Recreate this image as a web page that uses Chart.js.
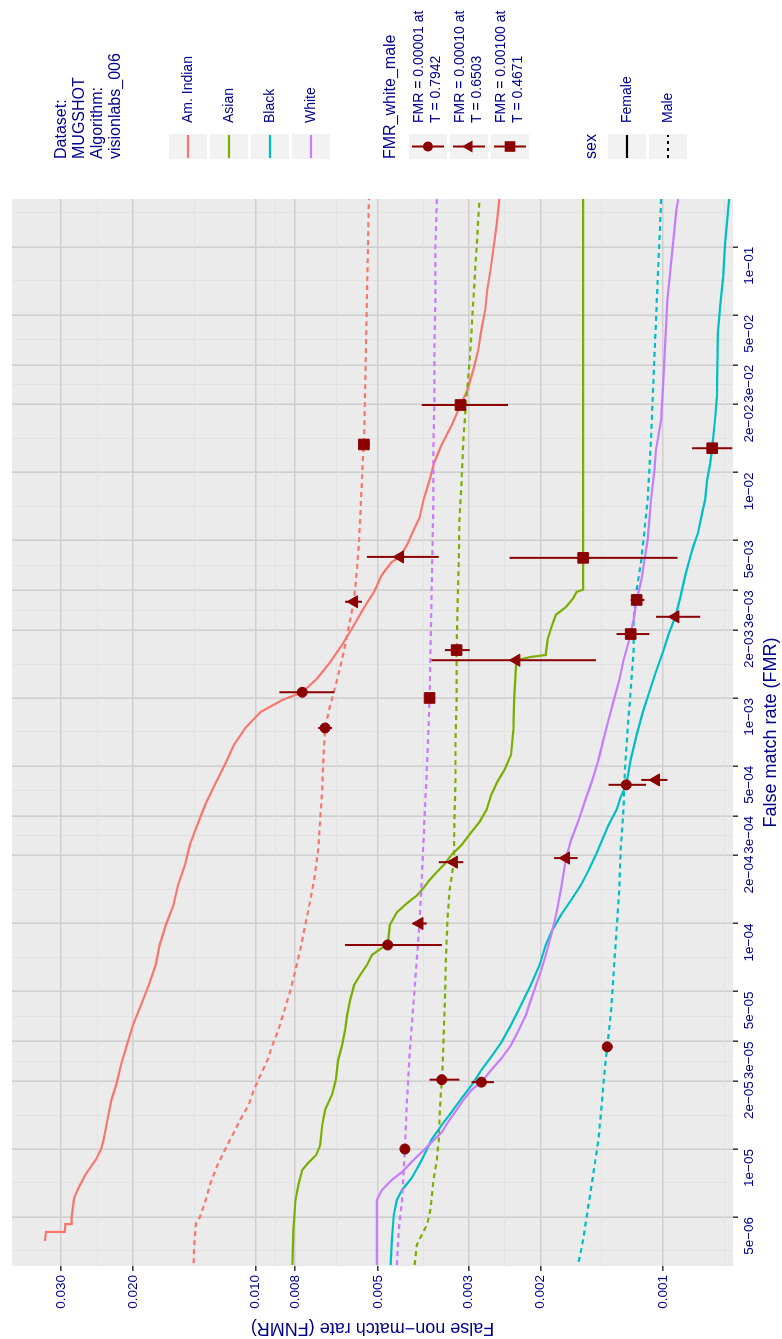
<!DOCTYPE html>
<html>
<head>
<meta charset="utf-8">
<script src="https://cdn.jsdelivr.net/npm/chart.js@4.4.1/dist/chart.umd.min.js"></script>
<style>
html, body { margin: 0; padding: 0; background: #fff; overflow: hidden; }
#wrap {
    position: absolute; left: 0; top: 0;
    width: 1339px; height: 782px;
    transform-origin: 0 0;
    transform: translate(0, 1339px) rotate(-90deg);
}
canvas { display: block; }
</style>
</head>
<body>
<div id="wrap"><canvas id="det" width="1339" height="782"></canvas></div>
<script>
// ---- data: [FMR, FNMR] pairs ----
const amIndianFemale = [[3.91e-6,0.0329],[4.29e-6,0.0327],[4.29e-6,0.0294],[4.65e-6,0.0293],[4.65e-6,0.0283],[4.99e-6,0.0283],[6.06e-6,0.0279],[6.72e-6,0.0272],[7.67e-6,0.0262],[8.94e-6,0.0247],[9.9e-6,0.0240],[1.10e-5,0.0236],[1.35e-5,0.0231],[1.65e-5,0.0226],[1.92e-5,0.0220],[2.36e-5,0.0214],[2.89e-5,0.0207],[3.55e-5,0.0200],[4.35e-5,0.0191],[5.33e-5,0.0183],[6.54e-5,0.0176],[8.03e-5,0.0172],[9.85e-5,0.0166],[1.21e-4,0.0159],[1.48e-4,0.0155],[1.82e-4,0.0149],[2.23e-4,0.0145],[2.73e-4,0.0139],[3.35e-4,0.0133],[4.12e-4,0.0126],[5.05e-4,0.0119],[6.19e-4,0.0113],[7.36e-4,0.0106],[8.67e-4,0.00972],[9.80e-4,0.00859],[1.06e-3,0.00768],[1.22e-3,0.00706],[1.44e-3,0.00656],[1.72e-3,0.00613],[2.11e-3,0.00573],[2.51e-3,0.00542],[2.95e-3,0.00512],[3.51e-3,0.00490],[4.01e-3,0.00463],[4.22e-3,0.00442],[4.77e-3,0.00425],[5.56e-3,0.00409],[6.29e-3,0.00396],[7.55e-3,0.00387],[9.26e-3,0.00374],[1.11e-2,0.00364],[1.33e-2,0.00349],[1.62e-2,0.00330],[1.99e-2,0.00314],[2.32e-2,0.00302],[2.85e-2,0.00292],[3.49e-2,0.00284],[4.29e-2,0.00279],[5.26e-2,0.00273],[6.45e-2,0.00270],[7.91e-2,0.00265],[9.70e-2,0.00261],[0.125,0.00256],[0.163,0.00252]];
const amIndianMale = [[3.12e-6,0.0142],[4.07e-6,0.0141],[4.7e-6,0.0140],[4.99e-6,0.0137],[5.82e-6,0.0133],[7.07e-6,0.0129],[8.49e-6,0.0124],[9.9e-6,0.0119],[1.15e-5,0.0114],[1.35e-5,0.0109],[1.57e-5,0.0104],[1.83e-5,0.0101],[2.13e-5,0.00972],[2.48e-5,0.00935],[2.89e-5,0.00909],[3.37e-5,0.00879],[4.14e-5,0.00849],[5.07e-5,0.00821],[6.22e-5,0.00798],[7.63e-5,0.00777],[9.85e-5,0.00755],[1.27e-4,0.00734],[1.56e-4,0.00718],[2.12e-4,0.00702],[2.88e-4,0.00694],[3.91e-4,0.00686],[5.31e-4,0.00682],[7.36e-4,0.00675],[9.31e-4,0.00656],[1.20e-3,0.00631],[1.63e-3,0.00606],[2.22e-3,0.00586],[2.72e-3,0.00573],[3.69e-3,0.00564],[5.02e-3,0.00557],[7.55e-3,0.00551],[1.14e-2,0.00545],[1.33e-2,0.00542],[2.10e-2,0.00539],[3.49e-2,0.00536],[5.82e-2,0.00533],[9.70e-2,0.00530],[0.163,0.00527]];
const asianFemale = [[3.06e-6,0.00812],[4.37e-6,0.00808],[5.94e-6,0.00798],[6.93e-6,0.00785],[8.07e-6,0.00768],[8.67e-6,0.00743],[9.41e-6,0.00710],[1.04e-5,0.00694],[1.28e-5,0.00686],[1.49e-5,0.00675],[1.74e-5,0.00649],[2.03e-5,0.00635],[2.48e-5,0.00627],[2.89e-5,0.00613],[3.37e-5,0.00603],[3.93e-5,0.00596],[4.58e-5,0.00586],[5.33e-5,0.00573],[5.91e-5,0.00554],[6.54e-5,0.00533],[7.25e-5,0.00518],[7.79e-5,0.00490],[8.03e-5,0.00474],[9.85e-5,0.00468],[1.12e-4,0.00450],[1.23e-4,0.00425],[1.33e-4,0.00402],[1.44e-4,0.00387],[1.56e-4,0.00374],[1.69e-4,0.00359],[1.82e-4,0.00345],[2.02e-4,0.00330],[2.23e-4,0.00312],[2.55e-4,0.00295],[2.82e-4,0.00282],[3.19e-4,0.00271],[3.72e-4,0.00264],[4.24e-4,0.00255],[4.80e-4,0.00245],[5.59e-4,0.00236],[7.21e-4,0.00233],[9.80e-4,0.00232],[1.47e-3,0.00229],[1.52e-3,0.00211],[1.55e-3,0.00194],[1.81e-3,0.00192],[2.05e-3,0.00188],[2.34e-3,0.00183],[2.53e-3,0.00173],[2.77e-3,0.00166],[2.95e-3,0.00163],[3.02e-3,0.00157],[0.163,0.00157]];
const asianMale = [[3.06e-6,0.00407],[3.75e-6,0.00402],[4.16e-6,0.00391],[4.60e-6,0.00380],[5.10e-6,0.00374],[5.94e-6,0.00370],[7.29e-6,0.00366],[8.94e-6,0.00359],[1.10e-5,0.00355],[1.49e-5,0.00353],[2.03e-5,0.00349],[2.48e-5,0.00347],[3.37e-5,0.00345],[4.58e-5,0.00343],[6.89e-5,0.00341],[1.04e-4,0.00338],[1.41e-4,0.00334],[1.87e-4,0.00326],[2.88e-4,0.00325],[4.33e-4,0.00323],[6.52e-4,0.00323],[9.80e-4,0.00321],[1.63e-3,0.00321],[2.72e-3,0.00319],[4.09e-3,0.00317],[6.16e-3,0.00316],[9.26e-3,0.00312],[1.39e-2,0.00309],[2.10e-2,0.00304],[3.16e-2,0.00298],[4.29e-2,0.00295],[5.82e-2,0.00292],[7.91e-2,0.00289],[0.107,0.00286],[0.163,0.00282]];
const blackFemale = [[3.06e-6,0.00466],[3.95e-6,0.00463],[5.10e-6,0.00458],[5.94e-6,0.00450],[6.58e-6,0.00437],[7.43e-6,0.00414],[8.94e-6,0.00391],[1.10e-5,0.00370],[1.28e-5,0.00349],[1.46e-5,0.00330],[1.68e-5,0.00312],[1.92e-5,0.00295],[2.24e-5,0.00279],[2.56e-5,0.00264],[2.98e-5,0.00249],[3.55e-5,0.00236],[4.35e-5,0.00223],[5.33e-5,0.00211],[6.54e-5,0.00201],[8.03e-5,0.00194],[9.36e-5,0.00187],[1.09e-4,0.00178],[1.27e-4,0.00168],[1.48e-4,0.00159],[1.73e-4,0.00152],[2.02e-4,0.00146],[2.35e-4,0.00141],[2.73e-4,0.00136],[3.19e-4,0.00130],[3.64e-4,0.00127],[4.12e-4,0.00123],[5.31e-4,0.00120],[6.86e-4,0.00116],[8.67e-4,0.00112],[1.06e-3,0.00108],[1.31e-3,0.00104],[1.60e-3,0.00100],[1.90e-3,0.000970],[2.29e-3,0.000932],[2.80e-3,0.000906],[3.51e-3,0.000881],[4.22e-3,0.000857],[4.67e-3,0.000843],[5.39e-3,0.000820],[6.61e-3,0.000801],[7.55e-3,0.000788],[9.26e-3,0.000779],[1.09e-2,0.000766],[1.28e-2,0.000757],[1.71e-2,0.000745],[2.16e-2,0.000737],[4.16e-2,0.000733],[5.42e-2,0.000724],[7.36e-2,0.000712],[0.104,0.000704],[0.163,0.000688]];
const blackMale = [[3.16e-6,0.00161],[3.95e-6,0.00157],[5.37e-6,0.00153],[7.29e-6,0.00149],[1.10e-5,0.00144],[1.65e-5,0.00141],[2.24e-5,0.00139],[2.84e-5,0.00137],[4.14e-5,0.00134],[6.22e-5,0.00132],[9.36e-5,0.00130],[1.41e-4,0.00128],[2.12e-4,0.00127],[3.19e-4,0.00125],[4.80e-4,0.00124],[7.36e-4,0.00122],[1.08e-3,0.00120],[1.63e-3,0.00118],[2.22e-3,0.00118],[3.02e-3,0.00116],[4.09e-3,0.00113],[5.56e-3,0.00111],[7.55e-3,0.00109],[1.02e-2,0.00108],[1.39e-2,0.00107],[2.10e-2,0.00106],[3.16e-2,0.00105],[4.75e-2,0.00104],[7.14e-2,0.00103],[0.107,0.00102],[0.163,0.00101]];
const whiteFemale = [[3.06e-6,0.00504],[5.94e-6,0.00504],[6.58e-6,0.00490],[7.29e-6,0.00463],[7.91e-6,0.00437],[8.76e-6,0.00414],[9.70e-6,0.00391],[1.07e-5,0.00370],[1.19e-5,0.00349],[1.35e-5,0.00334],[1.49e-5,0.00321],[1.65e-5,0.00309],[1.83e-5,0.00295],[1.98e-5,0.00279],[2.24e-5,0.00264],[2.53e-5,0.00249],[2.89e-5,0.00236],[3.37e-5,0.00226],[3.93e-5,0.00217],[4.58e-5,0.00211],[5.33e-5,0.00205],[6.22e-5,0.00199],[7.25e-5,0.00194],[8.89e-5,0.00188],[1.09e-4,0.00183],[1.41e-4,0.00178],[1.95e-4,0.00173],[2.35e-4,0.00168],[2.88e-4,0.00161],[3.53e-4,0.00155],[4.33e-4,0.00149],[5.31e-4,0.00144],[6.52e-4,0.00140],[7.99e-4,0.00136],[9.80e-4,0.00132],[1.20e-3,0.00128],[1.47e-3,0.00125],[1.81e-3,0.00121],[2.22e-3,0.00118],[2.72e-3,0.00116],[3.33e-3,0.00113],[4.09e-3,0.00111],[5.02e-3,0.00109],[6.16e-3,0.00108],[7.55e-3,0.00107],[1.02e-2,0.00105],[1.26e-2,0.00104],[1.71e-2,0.00101],[2.57e-2,0.000998],[3.87e-2,0.000986],[5.82e-2,0.000975],[7.91e-2,0.000959],[0.107,0.000943],[0.146,0.000927],[0.163,0.000917]];
const whiteMale = [[3.06e-6,0.00450],[4.37e-6,0.00445],[5.94e-6,0.00437],[1.00e-5,0.00430],[1.65e-5,0.00425],[2.75e-5,0.00418],[4.58e-5,0.00409],[6.89e-5,0.00402],[1.00e-4,0.00396],[1.56e-4,0.00391],[2.35e-4,0.00387],[3.53e-4,0.00383],[5.88e-4,0.00378],[1.00e-3,0.00374],[1.63e-3,0.00372],[2.72e-3,0.00370],[4.53e-3,0.00368],[7.55e-3,0.00366],[1.26e-2,0.00366],[2.10e-2,0.00364],[3.49e-2,0.00364],[5.82e-2,0.00362],[9.70e-2,0.00362],[0.163,0.00359]];

// operating points, order: AmInd F, AmInd M, Asian F, Asian M, Black F, Black M, White F, White M
const circleFmr   = [1.06e-3, 7.36e-4, 8.03e-5, 2.03e-5, 4.12e-4, 2.84e-5, 1.98e-5, 1.00e-5];
const circleFnmr  = [0.00768, 0.00675, 0.00474, 0.00349, 0.00123, 0.00137, 0.00279, 0.00430];
const circleLow   = [0.00641, 0.00649, 0.00349, 0.00316, 0.00110, 0.00133, 0.00260, 0.00423];
const circleHigh  = [0.00874, 0.00702, 0.00603, 0.00374, 0.00136, 0.00140, 0.00295, 0.00437];
const triangleFmr  = [4.22e-3, 2.67e-3, 1.47e-3, 1.87e-4, 2.29e-3, 4.33e-4, 1.95e-4, 1.00e-4];
const triangleFnmr = [0.00442, 0.00573, 0.00229, 0.00326, 0.000932, 0.00104, 0.00173, 0.00396];
const triangleLow  = [0.00355, 0.00548, 0.00146, 0.00309, 0.000810, 0.000975, 0.00162, 0.00380];
const triangleHigh = [0.00533, 0.00603, 0.00370, 0.00355, 0.00104, 0.00113, 0.00185, 0.00412];
const squareFmr   = [1.99e-2, 1.33e-2, 4.18e-3, 1.63e-3, 1.28e-2, 1.92e-3, 2.72e-3, 1.00e-3];
const squareFnmr  = [0.00314, 0.00542, 0.00157, 0.00321, 0.000757, 0.00120, 0.00116, 0.00374];
const squareLow   = [0.00240, 0.00524, 0.000921, 0.00298, 0.000676, 0.00108, 0.00111, 0.00364];
const squareHigh  = [0.00391, 0.00560, 0.00238, 0.00343, 0.000848, 0.00130, 0.00120, 0.00384];

const fmrTicks = [5e-6, 1e-5, 2e-5, 3e-5, 5e-5, 1e-4, 2e-4, 3e-4, 5e-4, 1e-3, 2e-3, 3e-3, 5e-3, 1e-2, 2e-2, 3e-2, 5e-2, 1e-1];
const fmrTickLabels = ['5e\u221206', '1e\u221205', '2e\u221205', '3e\u221205', '5e\u221205', '1e\u221204', '2e\u221204', '3e\u221204', '5e\u221204',
    '1e\u221203', '2e\u221203', '3e\u221203', '5e\u221203', '1e\u221202', '2e\u221202', '3e\u221202', '5e\u221202', '1e\u221201'];
const fnmrTicks = [0.001, 0.002, 0.003, 0.005, 0.008, 0.010, 0.020, 0.030];
const fnmrTickLabels = ['0.001', '0.002', '0.003', '0.005', '0.008', '0.010', '0.020', '0.030'];
const fmrRange = [3.03e-6, 0.163];
const fnmrRange = [6.73e-4, 0.0396];

const raceLabels = ['Am. Indian', 'Asian', 'Black', 'White'];
const raceColors = ['#F8766D', '#7CAE00', '#00BFC4', '#C77CFF'];
const fmrLegendLabels = [['FMR = 0.00001 at', 'T = 0.7942'], ['FMR = 0.00010 at', 'T = 0.6503'], ['FMR = 0.00100 at', 'T = 0.4671']];
const sexLabels = ['Female', 'Male'];
const titleLines = ['Dataset:', 'MUGSHOT', 'Algorithm:', 'visionlabs_006'];

// ---- styling ----
const textBlue = '#00008B';
const markColor = '#8B0000';
const fontFamily = '"Liberation Sans", Arial, Helvetica, sans-serif';
const dash = [5, 4];

const curves = [
    [amIndianFemale, 0, false], [amIndianMale, 0, true],
    [asianFemale, 1, false], [asianMale, 1, true],
    [blackFemale, 2, false], [blackMale, 2, true],
    [whiteFemale, 3, false], [whiteMale, 3, true]
];

const markerSets = [
    { fmr: circleFmr, fnmr: circleFnmr, low: circleLow, high: circleHigh, style: 'circle', r: 5 },
    { fmr: triangleFmr, fnmr: triangleFnmr, low: triangleLow, high: triangleHigh, style: 'triangle', r: 7 },
    { fmr: squareFmr, fnmr: squareFnmr, low: squareLow, high: squareHigh, style: 'rect', r: 7.5 }
];

function minorBreaks(majors, lowExt, highExt) {
    const l = majors.map(Math.log10), out = [];
    if (lowExt) out.push(l[0] - (l[1] - l[0]) / 2);
    for (let i = 0; i < l.length - 1; i++) out.push((l[i] + l[i + 1]) / 2);
    if (highExt) out.push(l[l.length - 1] + (l[l.length - 1] - l[l.length - 2]) / 2);
    return out.map(v => Math.pow(10, v));
}

const isMajor = (v, majors) => majors.some(m => Math.abs(Math.log10(v / m)) < 1e-6);
const labelFor = (v, majors, labels) => {
    const i = majors.findIndex(m => Math.abs(Math.log10(v / m)) < 1e-6);
    return i < 0 ? '' : labels[i];
};
const inRange = (v, r) => v >= r[0] && v <= r[1];

const xTickValues = fmrTicks.concat(minorBreaks(fmrTicks, true, true)).filter(v => inRange(v, fmrRange)).sort((a, b) => a - b);
const yTickValues = fnmrTicks.concat(minorBreaks(fnmrTicks, true, false)).filter(v => inRange(v, fnmrRange)).sort((a, b) => a - b);

const datasets = [];
markerSets.forEach(s => {
    datasets.push({
        data: s.fmr.map((f, i) => ({ x: f, y: s.fnmr[i] })),
        showLine: false,
        pointStyle: s.style,
        pointRadius: s.r,
        pointBackgroundColor: markColor,
        pointBorderColor: markColor,
        pointBorderWidth: 1,
        order: 0
    });
});
curves.forEach(([pts, ci, male], i) => {
    datasets.push({
        data: pts.map(([x, y]) => ({ x, y })),
        borderColor: raceColors[ci],
        borderWidth: 2.2,
        borderDash: male ? dash : [],
        pointRadius: 0,
        tension: 0,
        fill: false,
        order: 100 - i
    });
});

const panelBg = {
    id: 'panelBg',
    beforeDraw(chart) {
        const { ctx, chartArea: a } = chart;
        ctx.save();
        ctx.fillStyle = '#ffffff';
        ctx.fillRect(0, 0, chart.width, chart.height);
        ctx.fillStyle = '#EBEBEB';
        ctx.fillRect(a.left, a.top, a.right - a.left, a.bottom - a.top);
        ctx.restore();
    }
};

const errorBars = {
    id: 'errorBars',
    afterDatasetsDraw(chart) {
        const { ctx, chartArea: a, scales: { x, y } } = chart;
        ctx.save();
        ctx.beginPath();
        ctx.rect(a.left, a.top, a.right - a.left, a.bottom - a.top);
        ctx.clip();
        ctx.strokeStyle = markColor;
        ctx.lineWidth = 2;
        markerSets.forEach(s => s.fmr.forEach((f, i) => {
            const px = x.getPixelForValue(f);
            ctx.beginPath();
            ctx.moveTo(px, y.getPixelForValue(s.low[i]));
            ctx.lineTo(px, y.getPixelForValue(s.high[i]));
            ctx.stroke();
        }));
        ctx.restore();
    }
};

function drawMarker(ctx, style, r, x, y) {
    ctx.beginPath();
    if (style === 'circle') {
        ctx.arc(x, y, r, 0, Math.PI * 2);
    } else if (style === 'triangle') {
        ctx.moveTo(x, y - r);
        ctx.lineTo(x + r * Math.sin(2 * Math.PI / 3), y - r * Math.cos(2 * Math.PI / 3));
        ctx.lineTo(x + r * Math.sin(4 * Math.PI / 3), y - r * Math.cos(4 * Math.PI / 3));
        ctx.closePath();
    } else {
        const h = r * Math.SQRT1_2;
        ctx.rect(x - h, y - h, 2 * h, 2 * h);
    }
    ctx.fill();
}

// ggplot style legends on the right-hand side
const ggLegend = {
    id: 'ggLegend',
    afterDraw(chart) {
        const ctx = chart.ctx;
        const kx = 1180, kw = 25, kh = 38, lx = 1216;
        ctx.save();
        ctx.textBaseline = 'middle';
        ctx.textAlign = 'left';
        ctx.fillStyle = textBlue;
        ctx.font = '16px ' + fontFamily;
        titleLines.forEach((t, i) => ctx.fillText(t, kx, 62 + i * 18));
        ctx.fillText('FMR_white_male', kx, 391);
        ctx.fillText('sex', kx, 592);

        const keyBox = (top) => {
            ctx.fillStyle = '#F2F2F2';
            ctx.fillRect(kx, top, kw, kh);
        };

        // race keys
        raceLabels.forEach((lab, i) => {
            const top = 169 + i * 41;
            keyBox(top);
            ctx.strokeStyle = raceColors[i];
            ctx.lineWidth = 2.2;
            ctx.setLineDash([]);
            ctx.beginPath();
            ctx.moveTo(kx + 1, top + kh / 2);
            ctx.lineTo(kx + kw - 1, top + kh / 2);
            ctx.stroke();
            ctx.fillStyle = textBlue;
            ctx.font = '14px ' + fontFamily;
            ctx.fillText(lab, lx, top + kh / 2);
        });

        // FMR threshold keys
        fmrLegendLabels.forEach((lines, i) => {
            const top = 409 + i * 41, cx = kx + kw / 2, cy = top + kh / 2;
            keyBox(top);
            ctx.strokeStyle = markColor;
            ctx.lineWidth = 2;
            ctx.setLineDash([]);
            ctx.beginPath();
            ctx.moveTo(cx, top + 3);
            ctx.lineTo(cx, top + kh - 3);
            ctx.stroke();
            ctx.fillStyle = markColor;
            drawMarker(ctx, markerSets[i].style, markerSets[i].r, cx, cy);
            ctx.fillStyle = textBlue;
            ctx.font = '14px ' + fontFamily;
            ctx.fillText(lines[0], lx, cy - 8.5);
            ctx.fillText(lines[1], lx, cy + 8.5);
        });

        // sex keys
        sexLabels.forEach((lab, i) => {
            const top = 608 + i * 41;
            keyBox(top);
            ctx.strokeStyle = '#000000';
            ctx.lineWidth = 2.2;
            ctx.setLineDash(i === 1 ? [3, 4] : []);
            ctx.beginPath();
            ctx.moveTo(kx + 1, top + kh / 2);
            ctx.lineTo(kx + kw - 1, top + kh / 2);
            ctx.stroke();
            ctx.setLineDash([]);
            ctx.fillStyle = textBlue;
            ctx.font = '14px ' + fontFamily;
            ctx.fillText(lab, lx, top + kh / 2);
        });
        ctx.restore();
    }
};

const gridColor = (majors) => (c) => isMajor(c.tick.value, majors) ? '#CFCFCF' : '#E0E0E0';
const gridWidth = (majors) => (c) => isMajor(c.tick.value, majors) ? 1.6 : 0.8;
const tickColor = (majors) => (c) => isMajor(c.tick.value, majors) ? '#333333' : 'rgba(0,0,0,0)';

new Chart(document.getElementById('det'), {
    type: 'line',
    data: { datasets },
    options: {
        responsive: false,
        devicePixelRatio: 1,
        animation: false,
        events: [],
        layout: { padding: { left: 0, right: 199, top: 8, bottom: 0 } },
        plugins: { legend: { display: false }, tooltip: { enabled: false } },
        scales: {
            x: {
                type: 'logarithmic',
                position: 'bottom',
                min: fmrRange[0],
                max: fmrRange[1],
                afterBuildTicks: (axis) => { axis.ticks = xTickValues.map(v => ({ value: v })); },
                afterFit: (axis) => { axis.height = 49; },
                border: { display: false },
                grid: {
                    color: gridColor(fmrTicks),
                    lineWidth: gridWidth(fmrTicks),
                    tickColor: tickColor(fmrTicks),
                    tickLength: 5,
                    tickWidth: 1.5
                },
                ticks: {
                    autoSkip: false,
                    maxRotation: 0,
                    minRotation: 0,
                    align: 'end',
                    padding: 3,
                    color: textBlue,
                    font: { family: fontFamily, size: 13.5 },
                    callback: (v) => labelFor(v, fmrTicks, fmrTickLabels)
                },
                title: {
                    display: true,
                    text: 'False match rate (FMR)',
                    color: textBlue,
                    font: { family: fontFamily, size: 18 },
                    padding: { top: 0, bottom: 0 }
                }
            },
            y: {
                type: 'logarithmic',
                position: 'left',
                min: fnmrRange[0],
                max: fnmrRange[1],
                afterBuildTicks: (axis) => { axis.ticks = yTickValues.map(v => ({ value: v })); },
                afterFit: (axis) => { axis.width = 73; },
                border: { display: false },
                grid: {
                    color: gridColor(fnmrTicks),
                    lineWidth: gridWidth(fnmrTicks),
                    tickColor: tickColor(fnmrTicks),
                    tickLength: 5,
                    tickWidth: 1.5
                },
                ticks: {
                    autoSkip: false,
                    padding: 4,
                    color: textBlue,
                    font: { family: fontFamily, size: 13.5 },
                    callback: (v) => labelFor(v, fnmrTicks, fnmrTickLabels)
                },
                title: {
                    display: true,
                    text: 'False non\u2212match rate (FNMR)',
                    color: textBlue,
                    font: { family: fontFamily, size: 18 },
                    padding: { top: 0, bottom: 0 }
                }
            }
        }
    },
    plugins: [panelBg, errorBars, ggLegend]
});
</script>
</body>
</html>
